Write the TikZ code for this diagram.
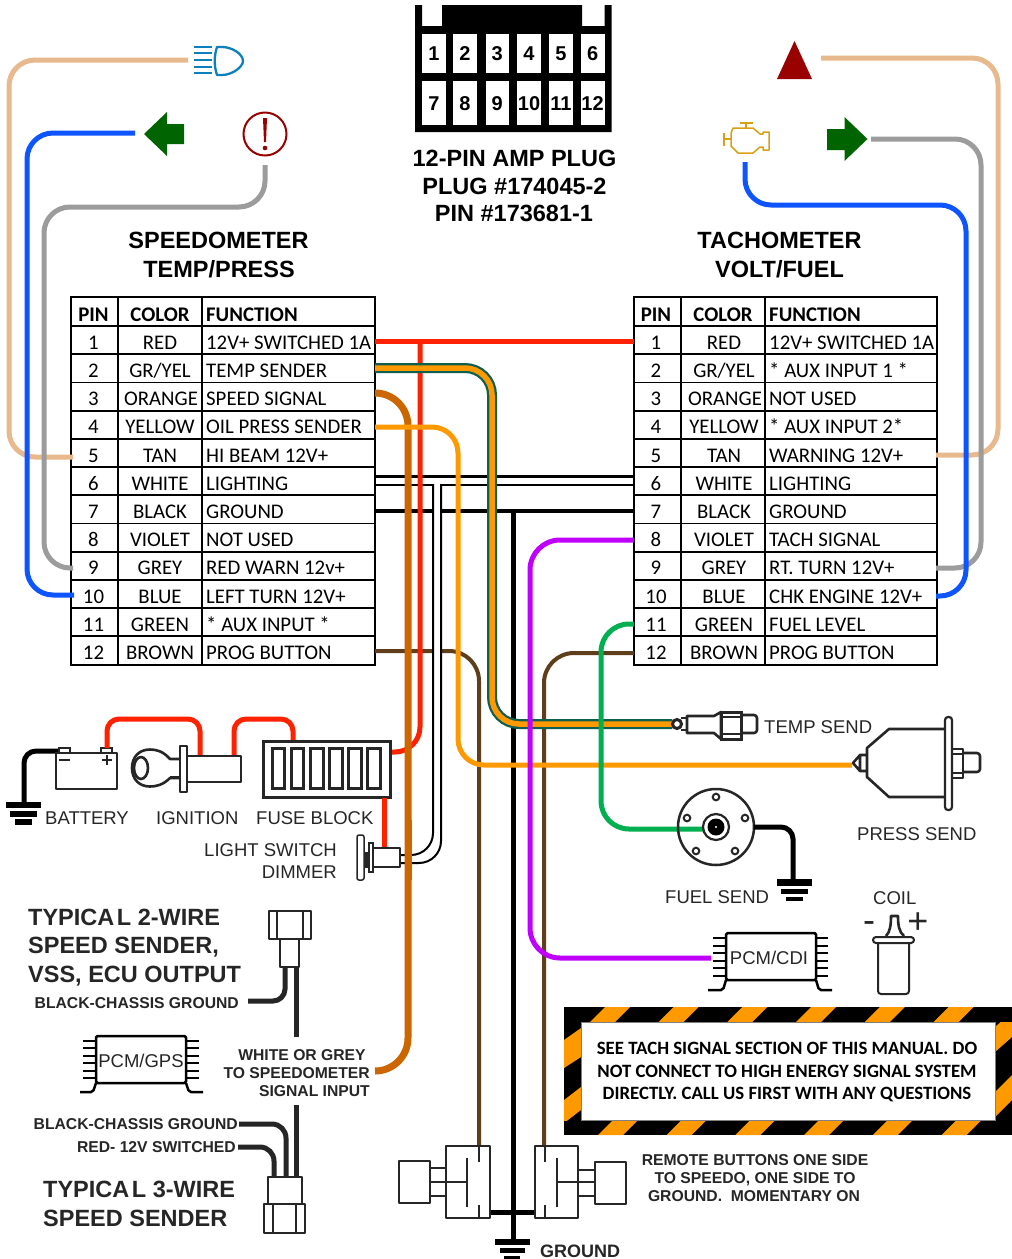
\documentclass[tikz,border=0pt]{standalone}
\usepackage{fontspec}
\setmainfont{Liberation Sans}
\newfontfamily\calfont{Carlito}
\definecolor{peach}{HTML}{E8B98C}
\definecolor{wblue}{HTML}{0F55FF}
\definecolor{wgrey}{HTML}{9C9C9C}
\definecolor{wred}{HTML}{FF2200}
\definecolor{wteal}{HTML}{0F5F50}
\definecolor{worange}{HTML}{FF9900}
\definecolor{wdark}{HTML}{CC6600}
\definecolor{wbrown}{HTML}{5F3E1C}
\definecolor{wgreen}{HTML}{00B050}
\definecolor{wpurple}{HTML}{BF00FF}
\definecolor{dkgreen}{HTML}{006400}
\definecolor{dkred}{HTML}{990000}
\definecolor{lampblue}{HTML}{0B80BD}
\definecolor{engine}{HTML}{D9A016}
\definecolor{ink}{HTML}{262626}
\tikzset{
  tx/.style={inner sep=0pt,anchor=base},
  txl/.style={inner sep=0pt,anchor=base west},
  txr/.style={inner sep=0pt,anchor=base east},
  plain18/.style={font=\fontsize{18.5}{20}\selectfont,text=ink},
  head24/.style={font=\bfseries\fontsize{23.5}{26}\selectfont,text=black},
  typ24/.style={font=\bfseries\fontsize{23.5}{26}\selectfont,text=ink},
  small16/.style={font=\bfseries\fontsize{15.7}{18}\selectfont,text=ink},
  cell/.style={font=\calfont\fontsize{20.8}{22}\selectfont,text=black},
  cellb/.style={font=\calfont\bfseries\fontsize{20.8}{22}\selectfont,text=black},
  warn/.style={font=\calfont\bfseries\fontsize{18.8}{22}\selectfont,text=black},
  wire/.style={line width=5pt,line cap=butt},
  tbl/.style={line width=1.8pt,black},
  sym/.style={line width=2pt,ink,line join=round},
  heavy/.style={line width=2.6pt,ink,line join=round},
  fine/.style={line width=2.5pt,black,line join=round},
  gbar/.style={fill=black,draw=none},
  pin/.style={line width=2.5pt,black},
}
\begin{document}
\begin{tikzpicture}[x=1pt,y=-1pt]
\useasboundingbox (0,0) rectangle (1012,1259);
\fill[white] (0,0) rectangle (1012,1259);

% ---- tables
\foreach \xa/\xb/\xc/\xd in {71/118/202/375, 634/681/765/937}{
  \draw[tbl] (\xa,297) rectangle (\xd,665);
  \draw[tbl] (\xb,297) -- (\xb,665);
  \draw[tbl] (\xc,297) -- (\xc,665);
  \foreach \i in {0,...,11}{ \draw[tbl] (\xa,{326+28.2*\i}) -- (\xd,{326+28.2*\i}); }
}
\node[tx,cellb] (LhP) at (93.5,321) {PIN};
\node[tx,cellb] (LhC) at (160,321) {COLOR};
\node[txl,cellb] (LhF) at (206,321) {FUNCTION};
\node[tx,cellb] (RhP) at (656,321) {PIN};
\node[tx,cellb] (RhC) at (723,321) {COLOR};
\node[txl,cellb] (RhF) at (769,321) {FUNCTION};
\foreach \i/\c/\cc/\fa/\fb in {
 1/RED/160/12V+ SWITCHED 1A/12V+ SWITCHED 1A,
 2/GR\slash YEL/160/TEMP SENDER/* AUX INPUT 1 *,
 3/ORANGE/161/SPEED SIGNAL/NOT USED,
 4/YELLOW/160/OIL PRESS SENDER/* AUX INPUT 2*,
 5/TAN/160/HI BEAM 12V+/WARNING 12V+,
 6/WHITE/160/LIGHTING/LIGHTING,
 7/BLACK/160/GROUND/GROUND,
 8/VIOLET/160/NOT USED/TACH SIGNAL,
 9/GREY/160/RED WARN 12v+/RT. TURN 12V+,
 10/BLUE/160/LEFT TURN 12V+/CHK ENGINE 12V+,
 11/GREEN/160/* AUX INPUT  */FUEL LEVEL,
 12/BROWN/160/PROG BUTTON/PROG BUTTON}{
  \node[tx,cell] (Lp\i) at (93.5,{326+28.2*\i-5}) {\i};
  \node[tx,cell] (Lc\i) at (\cc,{326+28.2*\i-5}) {\c};
  \node[txl,cell] (Lf\i) at (206,{326+28.2*\i-5}) {\fa};
  \node[tx,cell] (Rp\i) at (656,{326+28.2*\i-5}) {\i};
  \node[tx,cell] (Rc\i) at ({\cc+564},{326+28.2*\i-5}) {\c};
  \node[txl,cell] (Rf\i) at (769,{326+28.2*\i-5}) {\fb};
}

% ---- named wire ends
\coordinate (lampEnd) at (188,60);
\coordinate (ltEnd) at (135,133);
\coordinate (warnEnd) at (265,165);
\coordinate (pinL5) at (73,457);
\coordinate (pinL9) at (73,568);
\coordinate (pinL10) at (74,595);
\coordinate (triEnd) at (821,58);
\coordinate (rtEnd) at (871,139);
\coordinate (engEnd) at (745,162);
\coordinate (pinR5) at (936,455);
\coordinate (pinR9) at (936,568);
\coordinate (pinR10) at (936,596);
\coordinate (pinL1) at (375,341);
\coordinate (pinR1) at (634,341);
\coordinate (pinL2) at (375,368);
\coordinate (tempEnd) at (672,724);
\coordinate (pinL3) at (375,393);
\coordinate (vssEnd) at (375,1071);
\coordinate (pinL4) at (375,427);
\coordinate (pressEnd) at (852,765);
\coordinate (pinR8) at (634,540);
\coordinate (cdiEnd) at (711,958);
\coordinate (pinR11) at (634,624);
\coordinate (fuelEnd) at (703,829);
\coordinate (pinL12) at (375,651);
\coordinate (btnL) at (479,1146);
\coordinate (pinR12) at (634,653);
\coordinate (btnR) at (544,1146);
\coordinate (redTap) at (420,341);
\coordinate (fuseR) at (390,752);
\coordinate (gndBusTop) at (513,511);
\coordinate (gndBusBot) at (513,1240);

% ---- indicator wires
\draw[wire,peach,rounded corners=26pt] (lampEnd) -- (9,60) -- (9,457) -- (pinL5);
\draw[wire,wblue,rounded corners=26pt] (ltEnd) -- (27,133) -- (27,595) -- (pinL10);
\draw[wire,wgrey,rounded corners=26pt] (warnEnd) -- (265,207) -- (44,207) -- (44,568) -- (pinL9);
\draw[wire,peach,rounded corners=26pt] (triEnd) -- (998,58) -- (998,455) -- (pinR5);
\draw[wire,wgrey,rounded corners=26pt] (rtEnd) -- (981,139) -- (981,568) -- (pinR9);
\draw[wire,wblue,rounded corners=26pt] (engEnd) -- (745,205) -- (966,205) -- (966,596) -- (pinR10);

% ---- harness
\draw[line width=4pt,black] (375,511) -- (634,511);
\draw[line width=5pt,black] (gndBusTop) -- (gndBusBot);
\draw[line width=4pt,wbrown,rounded corners=30pt] (pinL12) -- (479,651) -- (btnL);
\draw[line width=4pt,wbrown,rounded corners=30pt] (pinR12) -- (544,653) -- (btnR);
% white pair
\draw[line width=3pt,black] (375,476) -- (634,476);
\draw[line width=7pt,white,rounded corners=22pt] (437,487) -- (437,859) -- (400,859);
\draw[line width=2pt,black] (375,485) -- (434,485);
\draw[line width=2pt,black] (634,485) -- (440,485);
\draw[line width=2pt,black,rounded corners=22pt] (433,484) -- (433,855) -- (400,855);
\draw[line width=2pt,black,rounded corners=22pt] (441,484) -- (441,863) -- (400,863);
% others
\draw[wire,wred] (pinL1) -- (pinR1);
\draw[wire,wred,rounded corners=25pt] (redTap) -- (420,752) -- (fuseR);
\draw[line width=10pt,wteal,rounded corners=27pt] (pinL2) -- (492,368) -- (492,724) -- (tempEnd);
\draw[line width=5.5pt,worange,rounded corners=27pt] (pinL2) -- (492,368) -- (492,724) -- (tempEnd);
\draw[line width=7pt,wdark,rounded corners=33pt] (pinL3) -- (408,393) -- (408,1071) -- (vssEnd);
\draw[wire,worange,rounded corners=26pt] (pinL4) -- (458,427) -- (458,765) -- (pressEnd);
\draw[wire,wpurple,rounded corners=30pt] (pinR8) -- (530,540) -- (530,958) -- (cdiEnd);
\draw[wire,wgreen,rounded corners=28pt] (pinR11) -- (601,624) -- (601,829) -- (fuelEnd);

% ---- plug
\fill[black] (415,5) -- (422,5) -- (422,26) -- (442,26) -- (442,5) -- (582,5) -- (582,26) -- (604.7,26) -- (604.7,5) -- (611.5,5) -- (611.5,132) -- (415,132) -- cycle;
\foreach \n/\xa/\xb in {1/422/446,2/453/477,3/485.5/509,4/517/541,5/549/573,6/580.5/604.7}{
  \fill[white] (\xa,33.7) rectangle (\xb,73);
  \node[tx,font=\bfseries\fontsize{20}{22}\selectfont] (plugA\n) at ({(\xa+\xb)/2},60.5) {\n};
}
\foreach \n/\xa/\xb in {7/422/446,8/453/477,9/485.5/509,10/517/541,11/549/573,12/580.5/604.7}{
  \fill[white] (\xa,81) rectangle (\xb,125);
  \node[tx,font=\bfseries\fontsize{20}{22}\selectfont] (plugB\n) at ({(\xa+\xb)/2},110.5) {\n};
}
\node[tx,head24] (plug1) at (514.5,166) {12-PIN AMP PLUG};
\node[tx,head24] (plug2) at (514.5,194) {PLUG \#174045-2};
\node[tx,head24] (plug3) at (514,221) {PIN \#173681-1};
\node[tx,head24] (sp1) at (218.5,248) {SPEEDOMETER};
\node[tx,head24] (sp2) at (219,277) {TEMP/PRESS};
\node[tx,head24] (ta1) at (779.5,248) {TACHOMETER};
\node[tx,head24] (ta2) at (779.5,277) {VOLT/FUEL};

% ---- indicator icons
\foreach \y in {47,53,60,67,73}{ \draw[line width=2.3pt,lampblue] (194,\y) -- (212,\y); }
\draw[line width=2.3pt,lampblue,line join=round] (217,47) -- (222,47) .. controls (232,47) and (243,54) .. (243,61) .. controls (243,67) and (232,75) .. (222,75) -- (217,75) .. controls (214,66) and (214,56) .. (217,47) -- cycle;
\fill[dkgreen] (144,134) -- (167,112) -- (167,124) -- (184,124) -- (184,144) -- (167,144) -- (167,156) -- cycle;
\draw[line width=2pt,dkred] (265,134) circle (21.5);
\fill[dkred] (263,118) -- (267,118) -- (266,142) -- (264,142) -- cycle;
\fill[dkred] (265,148) circle (2.3);
\fill[dkred] (794.5,41) -- (812,79) -- (777,79) -- cycle;
\fill[dkgreen] (867.5,139) -- (844.5,117) -- (844.5,129) -- (827,129) -- (827,150) -- (844.5,150) -- (844.5,161) -- cycle;
\draw[line width=1.5pt,engine,line join=round] (733,128) -- (753,128) -- (760,134) -- (763,134) -- (763,132) -- (769,132) -- (769,150) -- (763,150) -- (763,147) -- (760,147) -- (753,153) -- (738,153) -- (731,146) -- (731,133) -- cycle;
\draw[line width=1.5pt,engine] (724,133) -- (724,146) (724,139) -- (731,139) (740,123) -- (753,123) (746,123) -- (746,128);

% ---- battery, ignition, fuse block
\draw[line width=5pt,black,rounded corners=12pt] (58,751) -- (24,751) -- (24,803);
\fill[gbar] (6,802) rectangle (41,808);
\fill[gbar] (10,811) rectangle (37,817);
\fill[gbar] (15,819) rectangle (32,825);
\draw[sym] (56,753) rectangle (117,789);
\draw[line width=1.5pt,ink] (59,753) rectangle (70,748);
\draw[line width=1.5pt,ink] (101,753) rectangle (112,748);
\draw[line width=1.5pt,ink] (59,760) -- (70,760) (102,760) -- (112,760) (107,755) -- (107,765);
\draw[wire,wred,rounded corners=12pt] (107,748) -- (107,719) -- (200,719) -- (200,756);
\draw[wire,wred,rounded corners=12pt] (234,756) -- (234,719) -- (293,719) -- (293,741);
\draw[sym,fill=white] (185,756) rectangle (241,782);
\draw[sym,fill=white] (180,746) rectangle (187,792);
\draw[heavy] (180,759) -- (170,759) .. controls (163,751) and (156,749.5) .. (150,749.5) .. controls (139,749.5) and (132,757) .. (132,768) .. controls (132,779) and (139,786.5) .. (150,786.5) .. controls (156,786.5) and (163,785) .. (170,778) -- (180,778);
\draw[heavy] (141,768) ellipse (7 and 11);
\draw[line width=1pt,ink] (170,776) -- (180,776);
\draw[line width=3pt,ink,fill=white] (263,741) rectangle (390,797);
\foreach \xa/\xb in {272/284,291/303,310/323,329/342,348/361,367/380}{
  \draw[line width=3pt,ink] (\xa,748) rectangle (\xb,788);
}
\draw[wire,wred] (384,798) -- (384,847);
\node[txl,plain18] (bat) at (45,824) {BATTERY};
\node[txl,plain18] (ign) at (156,824) {IGNITION};
\node[txl,plain18] (fus) at (256,824) {FUSE BLOCK};
\node[txr,plain18] (ls1) at (337,856) {LIGHT SWITCH};
\node[txr,plain18] (ls2) at (337,878) {DIMMER};
% dimmer
\draw[line width=1.5pt,ink,fill=white,rounded corners=2pt] (357,835) rectangle (364,880);
\fill[ink] (364,852) rectangle (369,868);
\draw[line width=1.5pt,ink,fill=white] (369,843) rectangle (373,872);
\draw[sym,fill=white] (373,848) rectangle (400,867);
\draw[line width=7pt,wdark] (408,820) -- (408,880);

% ---- temp send
\draw[line width=3pt,ink] (677,724) circle (4.5);
\draw[heavy] (681,718) -- (687,718) (681,730) -- (687,730);
\draw[heavy] (687,716) -- (714,716) -- (721,712) -- (721,739) -- (714,733) -- (687,733) -- cycle;
\draw[line width=3pt,ink] (721,712) rectangle (741,739);
\draw[heavy] (721,717) -- (741,717) (721,734) -- (741,734);
\draw[heavy,rounded corners=3pt] (741,715) -- (757,715) -- (757,733) -- (741,733);
\node[txl,plain18] (tsl) at (764,733) {TEMP SEND};
% ---- press send
\draw[heavy] (945,729) -- (889,729) -- (867,748) -- (867,777) -- (889,797) -- (945,797);
\draw[line width=2.2pt,ink,fill=white,rounded corners=3pt] (945,717) rectangle (952,810);
\draw[heavy] (867,755) -- (860,755) -- (853,763) -- (860,771) -- (867,771) (860,755) -- (860,771);
\draw[heavy] (952,749) rectangle (963,778);
\draw[sym] (952,754) -- (963,754) (952,773) -- (963,773);
\draw[heavy,rounded corners=3pt] (963,753) -- (980,753) -- (980,772) -- (963,772);
\node[txl,plain18] (psl) at (857,840) {PRESS SEND};
% ---- fuel send
\draw[line width=2.5pt,ink] (716,827) circle (38);
\draw[line width=2.2pt,ink] (716,827) circle (13);
\fill[black] (716,827) circle (8.5);
\fill[white] (716,827) circle (1.2);
\foreach \hx/\hy in {716/797,687/818,745/818,696/851,735/851}{ \draw[line width=2pt,ink] (\hx,\hy) circle (3.3); }
\draw[line width=5pt,black,rounded corners=12pt] (754,827) -- (793,827) -- (793,879);
\fill[gbar] (777,879) rectangle (812,886);
\fill[gbar] (781,889) rectangle (808,894);
\fill[gbar] (786,897) rectangle (803,901);
\node[txl,plain18] (fsl) at (665,903) {FUEL SEND};
% ---- coil
\node[txl,plain18] (coil) at (873,904) {COIL};
\node[tx,font=\fontsize{36}{38}\selectfont,text=ink] (cm) at (869,932) {-};
\node[tx,font=\fontsize{36}{38}\selectfont,text=ink] (cp) at (918,933) {+};
\draw[sym,fill=white,rounded corners=3pt] (878,943) -- (878,994) -- (909,994) -- (909,943);
\draw[sym,fill=white,rounded corners=3pt] (873,943) rectangle (914,937);
\draw[heavy] (886,936) .. controls (890,932) and (891,925) .. (891,916) -- (898,916) .. controls (898,925) and (899,932) .. (904,936);
% ---- PCM/CDI
\draw[fine,rounded corners=1.5pt] (726,933) rectangle (816,980);
\foreach \y in {938,946,953,961,968,976}{ \draw[pin] (713,\y) -- (726,\y) (816,\y) -- (828,\y); }
\draw[pin,rounded corners=2pt] (726,980) -- (723,990) -- (708,990);
\draw[pin,rounded corners=2pt] (816,980) -- (819,990) -- (832,990);
\node[tx,plain18] (cdi) at (769,964) {PCM/CDI};
% ---- PCM/GPS
\draw[fine,rounded corners=1.5pt] (96,1036) rectangle (186,1083);
\foreach \y in {1041,1048,1056,1063,1071,1078}{ \draw[pin] (83,\y) -- (96,\y) (186,\y) -- (199,\y); }
\draw[pin,rounded corners=2pt] (96,1083) -- (93,1092) -- (80,1092);
\draw[pin,rounded corners=2pt] (186,1083) -- (189,1092) -- (203,1092);
\node[tx,plain18] (gps) at (141,1067) {PCM/GPS};

% ---- 2-wire sender
\draw[sym] (269,911) rectangle (311,939);
\draw[line width=1.5pt,ink] (277,911) -- (277,939) (303,911) -- (303,939);
\draw[sym] (280,939) rectangle (299,967);
\draw[wire,ink,rounded corners=12pt] (285,967) -- (285,1001) -- (248,1001);
\draw[wire,ink] (296,967) -- (296,1037);
\node[txl,typ24] (t2a) at (28,925) {{\spaceskip=2.5pt TYPICA L}\ 2-WIRE};
\node[txl,typ24] (t2b) at (28,953) {SPEED SENDER,};
\node[txl,typ24] (t2c) at (28,982) {VSS, ECU OUTPUT};
\node[txr,small16] (bc1) at (239,1008) {BLACK-CHASSIS GROUND};
\node[tx,small16] (wg1) at (302,1060) {WHITE OR GREY};
\node[txr,small16] (wg2) at (370,1078) {TO SPEEDOMETER};
\node[txr,small16] (wg3) at (370,1096) {SIGNAL INPUT};
% ---- 3-wire sender
\draw[wire,ink] (296,1105) -- (296,1177);
\draw[wire,ink,rounded corners=14pt] (286,1177) -- (286,1124) -- (239,1124);
\draw[wire,ink,rounded corners=14pt] (274,1177) -- (274,1147) -- (238,1147);
\draw[sym] (268,1177) rectangle (302,1204);
\draw[sym] (264,1204) rectangle (305,1233);
\draw[line width=1.5pt,ink] (273,1204) -- (273,1233) (296,1204) -- (296,1233);
\node[txr,small16] (bc2) at (238,1129) {BLACK-CHASSIS GROUND};
\node[txr,small16] (red12) at (236,1152) {RED- 12V SWITCHED};
\node[txl,typ24] (t3a) at (43,1197) {{\spaceskip=2.5pt TYPICA L}\ 3-WIRE};
\node[txl,typ24] (t3b) at (43,1226) {SPEED SENDER};

% ---- warning box
\fill[black] (564,1007) rectangle (1012,1135);
\begin{scope}
\clip (564,1007) rectangle (1012,1022);
\foreach \s in {0,...,5}{ \fill[worange] ({590+68.7*\s},1022) -- ({615+68.7*\s},1022) -- ({630+68.7*\s},1007) -- ({605+68.7*\s},1007) -- cycle; }
\end{scope}
\begin{scope}
\clip (564,1120) rectangle (1012,1135);
\foreach \s in {0,...,5}{ \fill[worange] ({598+68.7*\s},1135) -- ({623+68.7*\s},1135) -- ({638+68.7*\s},1120) -- ({613+68.7*\s},1120) -- cycle; }
\end{scope}
\begin{scope}
\clip (564,1022) rectangle (581,1120);
\fill[worange] (564,1040) -- (581,1028) -- (581,1057) -- (564,1068) -- cycle;
\fill[worange] (564,1100) -- (581,1087) -- (581,1110) -- (564,1123) -- cycle;
\end{scope}
\begin{scope}
\clip (995,1022) rectangle (1012,1120);
\fill[worange] (995,1027) -- (1012,1012) -- (1012,1037) -- (995,1052) -- cycle;
\fill[worange] (995,1092) -- (1012,1075) -- (1012,1100) -- (995,1117) -- cycle;
\end{scope}
\draw[line width=1pt,fill=white,draw=gray] (581,1022) rectangle (995,1120);
\node[tx,warn] (w1) at (787,1054) {SEE TACH SIGNAL SECTION OF THIS MANUAL. DO};
\node[tx,warn] (w2) at (787,1077) {NOT CONNECT TO HIGH ENERGY SIGNAL SYSTEM};
\node[tx,warn] (w3) at (787,1099) {DIRECTLY. CALL US FIRST WITH ANY QUESTIONS};

% ---- remote buttons
\fill[black] (490,1209.5) rectangle (535,1214.5);
\foreach \bx/\by/\bw/\bh/\sxa/\sxb/\pl/\plx/\cx in {399/1161/31/42/446/490/430/467/479, 595/1162/31/42/535/578/595/557/544.5}{
  \draw[sym] (\bx,\by) rectangle ({\bx+\bw},{\by+\bh});
  \draw[sym] (\sxa,1146) rectangle (\sxb,1218);
  \draw[sym] (\plx,1158) -- (\plx,1207);
  \draw[sym] (\pl,1182) -- (\plx,1182);
  \draw[sym] (\cx,1146) -- (\cx,1162) (\cx,1205) -- (\cx,1218);
}
\draw[sym] (430,1168) -- (446,1168) (430,1196) -- (446,1196);
\draw[sym] (578,1170) -- (595,1170) (578,1196) -- (595,1196);
\fill[gbar] (495,1239) rectangle (530,1245);
\fill[gbar] (500,1248) rectangle (525,1253);
\fill[gbar] (504,1256) rectangle (520,1259);
\node[txl,font=\bfseries\fontsize{18}{20}\selectfont,text=ink] (gl) at (540,1257) {GROUND};
\node[tx,small16] (r1) at (755,1165) {REMOTE BUTTONS ONE SIDE};
\node[tx,small16] (r2) at (755,1183) {TO SPEEDO, ONE SIDE TO};
\node[tx,small16] (r3) at (754,1201) {GROUND.\ \ MOMENTARY ON};
\end{tikzpicture}
\end{document}
